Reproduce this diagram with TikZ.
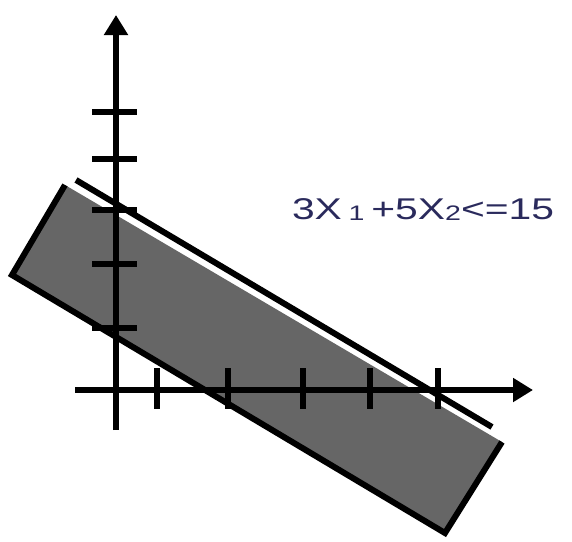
\documentclass[tikz,border=0pt]{standalone}
\usepackage{fontspec}
\usepackage{graphicx}
\setmainfont{Liberation Sans}
\usetikzlibrary{arrows.meta}
\definecolor{regiongray}{RGB}{102,102,102}
\definecolor{labelnavy}{RGB}{42,42,92}

\begin{document}
\begin{tikzpicture}[x=1pt,y=-1pt,line width=6pt]
  \useasboundingbox (0,0) rectangle (572,541);
  % feasible strip
  \fill[regiongray] (65,185) -- (12,275) -- (445,533) -- (502,442) -- cycle;
  \draw (65,185) -- (12,275) -- (445,533) -- (502,442);
  \draw (76,180) -- (492,427);
  % axes
  \draw[-{Triangle[length=20pt,width=23pt]}] (116,430) -- (116,15);
  \draw[-{Triangle[length=20pt,width=23pt]}] (75,390) -- (533,390);
  \foreach \y in {112,159,210,264,328} \draw (92,\y) -- (137,\y);
  \foreach \x in {157,228,303,370,438} \draw (\x,368) -- (\x,409);
  \node[anchor=base west,inner sep=0pt,text=labelnavy] (constraint) at (289,219)
    {\scalebox{1.36}[1]{\fontsize{30}{30}\selectfont 3X\,\raisebox{-1pt}{\fontsize{21}{21}\selectfont 1}\,+5X\raisebox{-1pt}{\fontsize{21}{21}\selectfont 2}<=15}};
\end{tikzpicture}
\end{document}
